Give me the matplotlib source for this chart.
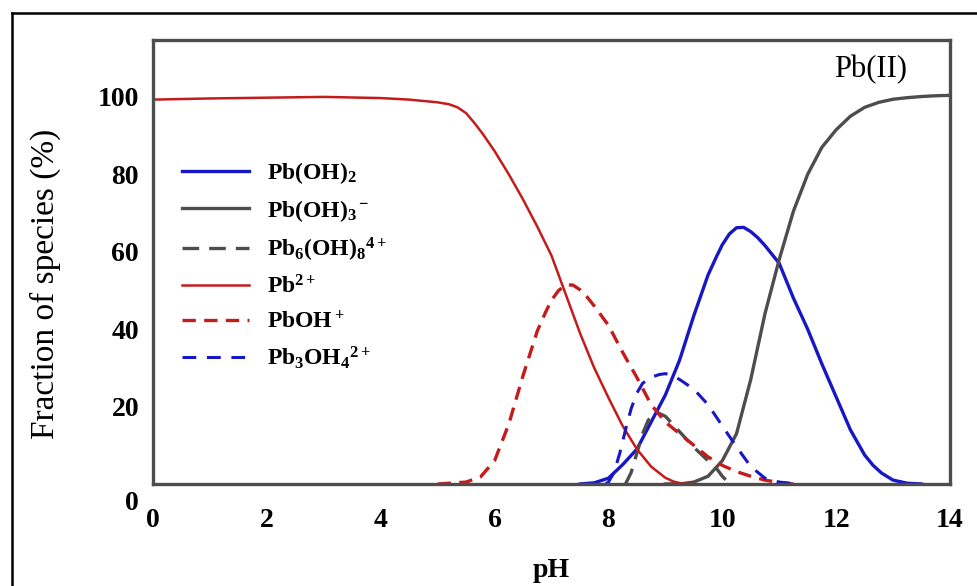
import numpy as np
import matplotlib
matplotlib.use("Agg")
import matplotlib.pyplot as plt
from matplotlib.lines import Line2D
from matplotlib.transforms import ScaledTranslation

# ===============================================================
# ! Pb(II) speciation data (fraction of species, %) vs pH
# ===============================================================
ph_pb = [0, 1, 2, 3, 4, 4.5, 5, 5.2, 5.35, 5.5, 5.65, 5.8, 6, 6.25, 6.5, 6.75,
         7, 7.25, 7.5, 7.75, 8, 8.25, 8.5, 8.75, 9, 9.15, 9.3, 9.5]
pb = [99.3, 99.6, 99.8, 100, 99.7, 99.3, 98.6, 98.1, 97.3, 95.8, 93.2, 90.3,
      86, 80, 73.5, 66.5, 59, 49, 39, 30, 22.3, 15, 9, 4.5, 1.6, 0.6, 0.1, 0]

ph_pboh = [5.0, 5.5, 5.75, 6.0, 6.25, 6.5, 6.75, 6.9, 7.0, 7.125, 7.25, 7.375,
           7.5, 7.625, 7.75, 8, 8.25, 8.5, 8.75, 9, 9.25, 9.5, 9.75, 10, 10.25,
           10.5, 10.75, 11, 11.25]
pboh = [0, 0.5, 1.8, 6, 15.5, 28, 39.5, 44.5, 47.5, 50, 51.4, 51.4, 50.2, 48.3,
        46, 41, 34, 27.5, 20.5, 16, 13, 10, 7, 4.8, 3.2, 2, 1, 0.4, 0]

ph_pb3 = [7.95, 8.0, 8.1, 8.2, 8.3, 8.4, 8.5, 8.6, 8.75, 8.9, 9.0, 9.1, 9.25,
          9.5, 9.75, 10, 10.25, 10.5, 10.75, 11, 11.3]
pb3 = [0, 0.5, 3, 8, 14, 19.5, 23.5, 26, 27.6, 28.3, 28.5, 28.2, 27, 24.5,
       20.5, 15, 9.6, 4.5, 1.5, 0.5, 0]

ph_pb6 = [8.3, 8.4, 8.5, 8.6, 8.7, 8.85, 9.0, 9.25, 9.5, 9.75, 9.9, 10.0, 10.1, 10.2]
pb6 = [0, 3, 8, 13, 16.5, 18.5, 17.5, 13.5, 9.5, 6, 4, 2, 0.5, 0]

ph_oh2 = [7.5, 7.75, 8, 8.25, 8.5, 8.75, 9, 9.25, 9.5, 9.75, 9.9, 10, 10.125,
          10.25, 10.375, 10.5, 10.625, 10.75, 11, 11.25, 11.5, 11.75, 12,
          12.25, 12.5, 12.65, 12.8, 13, 13.25, 13.5]
oh2 = [0, 0.3, 1.5, 5, 9, 16, 23, 32, 43.5, 54, 58.8, 61.8, 64.6, 66.2, 66.3,
       65.2, 63.6, 61.6, 57, 48, 40, 31, 22.5, 14, 7.5, 4.8, 2.8, 1, 0.2, 0]

ph_oh3 = [9.0, 9.3, 9.5, 9.75, 10, 10.25, 10.5, 10.75, 11, 11.25, 11.5, 11.75,
          12, 12.25, 12.5, 12.75, 13, 13.25, 13.5, 13.75, 14]
oh3 = [0, 0.1, 0.5, 2, 6, 13, 27, 44, 58, 70.5, 80, 87, 91.5, 95, 97.3, 98.6,
       99.4, 99.8, 100.1, 100.3, 100.4]

x_ticks = [0, 2, 4, 6, 8, 10, 12, 14]
y_ticks = [0, 20, 40, 60, 80, 100]

# ===============================================================
# ! Fonts
# ===============================================================
plt.rcParams['font.family'] = 'Liberation Serif'
plt.rcParams['mathtext.fontset'] = 'custom'
plt.rcParams['mathtext.rm'] = 'Liberation Serif:bold'
plt.rcParams['mathtext.it'] = 'Liberation Serif:italic:bold'
plt.rcParams['mathtext.bf'] = 'Liberation Serif:bold'

blue = '#1717c4'
red = '#c41c1c'
gray = '#4d4d4d'

fig = plt.figure(figsize=(9.78, 5.86), dpi=100)
ax = fig.add_axes([153 / 978, 102 / 586, 797 / 978, 444 / 586])

# curves
ax.plot(ph_oh2, oh2, color=blue, lw=2.4, label='Pb(OH)$_2$')
ax.plot(ph_oh3, oh3, color=gray, lw=2.4, label='Pb(OH)$_3$$^-$')
ax.plot(ph_pb6, pb6, color=gray, lw=2.4, dashes=(5, 3), label='Pb$_6$(OH)$_8$$^{4+}$')
ax.plot(ph_pb, pb, color=red, lw=1.8, label='Pb$^{2+}$')
ax.plot(ph_pboh, pboh, color=red, lw=2.4, dashes=(4, 2.5), label='PbOH$^+$')
ax.plot(ph_pb3, pb3, color=blue, lw=2.2, dashes=(4.5, 3.5), label='Pb$_3$OH$_4$$^{2+}$')

ax.set_xlim(0, 14)
ax.set_ylim(0, 114.7)
ax.set_xticks(x_ticks)
ax.set_yticks(y_ticks)
ax.tick_params(length=0, labelsize=20)
ax.tick_params(axis='x', pad=17)
ax.tick_params(axis='y', pad=10)
for lab in ax.get_xticklabels() + ax.get_yticklabels():
    lab.set_fontweight('bold')

# push the y "0" below the baseline
ylab0 = ax.get_yticklabels()[0]
ylab0.set_transform(ylab0.get_transform() + ScaledTranslation(0, -16 / 100, fig.dpi_scale_trans))

for sp in ax.spines.values():
    sp.set_color(gray)
    sp.set_linewidth(2.4)

ax.set_xlabel('pH', fontsize=20, fontweight='bold', labelpad=18)
ax.set_ylabel('Fraction of species (%)', fontsize=24)
ax.yaxis.set_label_coords(-0.116, 0.45)

ax.text(12.6, 107, 'Pb(II)', fontsize=22, ha='center', va='center')

leg = ax.legend(loc='upper left', bbox_to_anchor=(0.037, 0.73), frameon=False,
                fontsize=17, handlelength=2.8, handletextpad=0.8,
                labelspacing=0.5, borderaxespad=0, borderpad=0)
for t in leg.get_texts():
    t.set_fontweight('bold')

# outer frame
fig.add_artist(Line2D([12 / 978, 12 / 978], [0, 573 / 586], color='black', lw=1.8))
fig.add_artist(Line2D([12 / 978, 1], [573 / 586, 573 / 586], color='black', lw=1.8))

fig.savefig('out.png', dpi=100)
